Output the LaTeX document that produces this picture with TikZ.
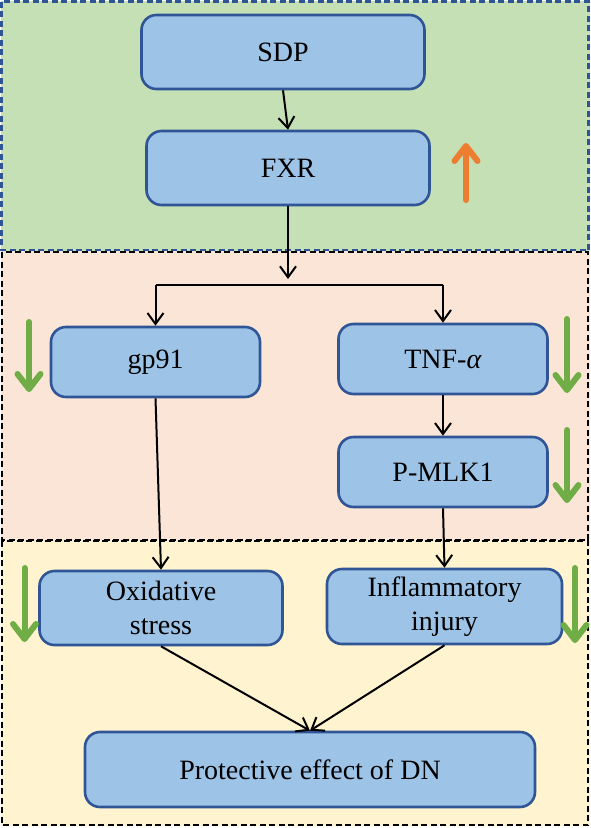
\documentclass[tikz,border=0pt]{standalone}
\usepackage{fontspec}
\setmainfont{Liberation Serif}
\usetikzlibrary{arrows.meta}
\definecolor{bgGreen}{HTML}{C5E0B4}
\definecolor{bgPink}{HTML}{FBE5D6}
\definecolor{bgYellow}{HTML}{FFF4CF}
\definecolor{boxFill}{HTML}{9DC3E6}
\definecolor{boxLine}{HTML}{2F5597}
\definecolor{upOrange}{HTML}{ED7D31}
\definecolor{downGreen}{HTML}{70AD47}
\tikzset{
  panel/.style={line width=2.3pt, dash pattern=on 6pt off 3.5pt},
  pbox/.style={rectangle, rounded corners=15pt, draw=boxLine, fill=boxFill, line width=2.6pt,
    font=\fontsize{28}{34}\selectfont, align=center, inner sep=0pt},
  conn/.style={line width=2pt, -{Straight Barb[length=11pt,width=16pt,line width=2pt]}},
  plain/.style={line width=2pt},
  downarr/.style={draw=downGreen, line width=6pt, line cap=round,
    -{Straight Barb[length=15pt,width=23pt,line width=6pt, round]}},
  uparr/.style={draw=upOrange, line width=6pt, line cap=round,
    -{Straight Barb[length=15pt,width=23pt,line width=6pt, round]}}
}
\begin{document}
\begin{tikzpicture}[x=1pt,y=-1pt]
\useasboundingbox (0,0) rectangle (591,828);
% panels
\fill[bgGreen] (1,1) rectangle (590,251);
\fill[bgPink] (1,251) rectangle (590,540);
\fill[bgYellow] (1,540) rectangle (590,826);
\draw[panel, draw=black] (2,252) rectangle (588,540);
\draw[panel, draw=black] (2,541) rectangle (588,825);
\draw[panel, draw=boxLine] (1.5,1.5) rectangle (588.5,250);
% boxes
\node[pbox, minimum width=283pt, minimum height=74pt] (sdp) at (283,52) {SDP};
\node[pbox, minimum width=283pt, minimum height=74pt] (fxr) at (288,168) {FXR};
\node[pbox, minimum width=209pt, minimum height=70pt] (gp) at (155.5,362) {gp91};
\node[pbox, minimum width=209pt, minimum height=70pt] (tnf) at (443,359) {TNF-\textit{α}};
\node[pbox, minimum width=209pt, minimum height=70pt] (mlk) at (443,472) {P-MLK1};
\node[pbox, minimum width=243pt, minimum height=74pt] (ox) at (161,608) {Oxidative\\stress};
\node[pbox, minimum width=235pt, minimum height=75pt] (inf) at (444.5,606.5) {Inflammatory\\injury};
\node[pbox, minimum width=450pt, minimum height=75pt] (prot) at (310,769.5) {Protective effect of DN};
% connectors
\coordinate (jn) at (288,279);
\coordinate (hl) at (155.5,285);
\coordinate (hr) at (443,285);
\draw[conn] (sdp.south) -- (fxr.north);
\draw[conn] (fxr.south) -- (jn);
\draw[plain] (hl) -- (hr);
\draw[conn] (hl) -- (gp.north);
\draw[conn] (hr) -- (tnf.north);
\draw[conn] (tnf.south) -- (mlk.north);
\draw[conn] (gp.south) -- (ox.north);
\draw[conn] (mlk.south) -- (inf.north);
\draw[conn] (ox.south) -- (prot.north);
\draw[conn] (inf.south) -- (prot.north);
% trend arrows
\draw[uparr] (466,200) -- (466,143);
\draw[downarr] (29,322) -- (29,392);
\draw[downarr] (567,319) -- (567,393);
\draw[downarr] (567,430) -- (567,503);
\draw[downarr] (24.5,568) -- (24.5,642);
\draw[downarr] (575,568) -- (575,643);
\end{tikzpicture}
\end{document}
